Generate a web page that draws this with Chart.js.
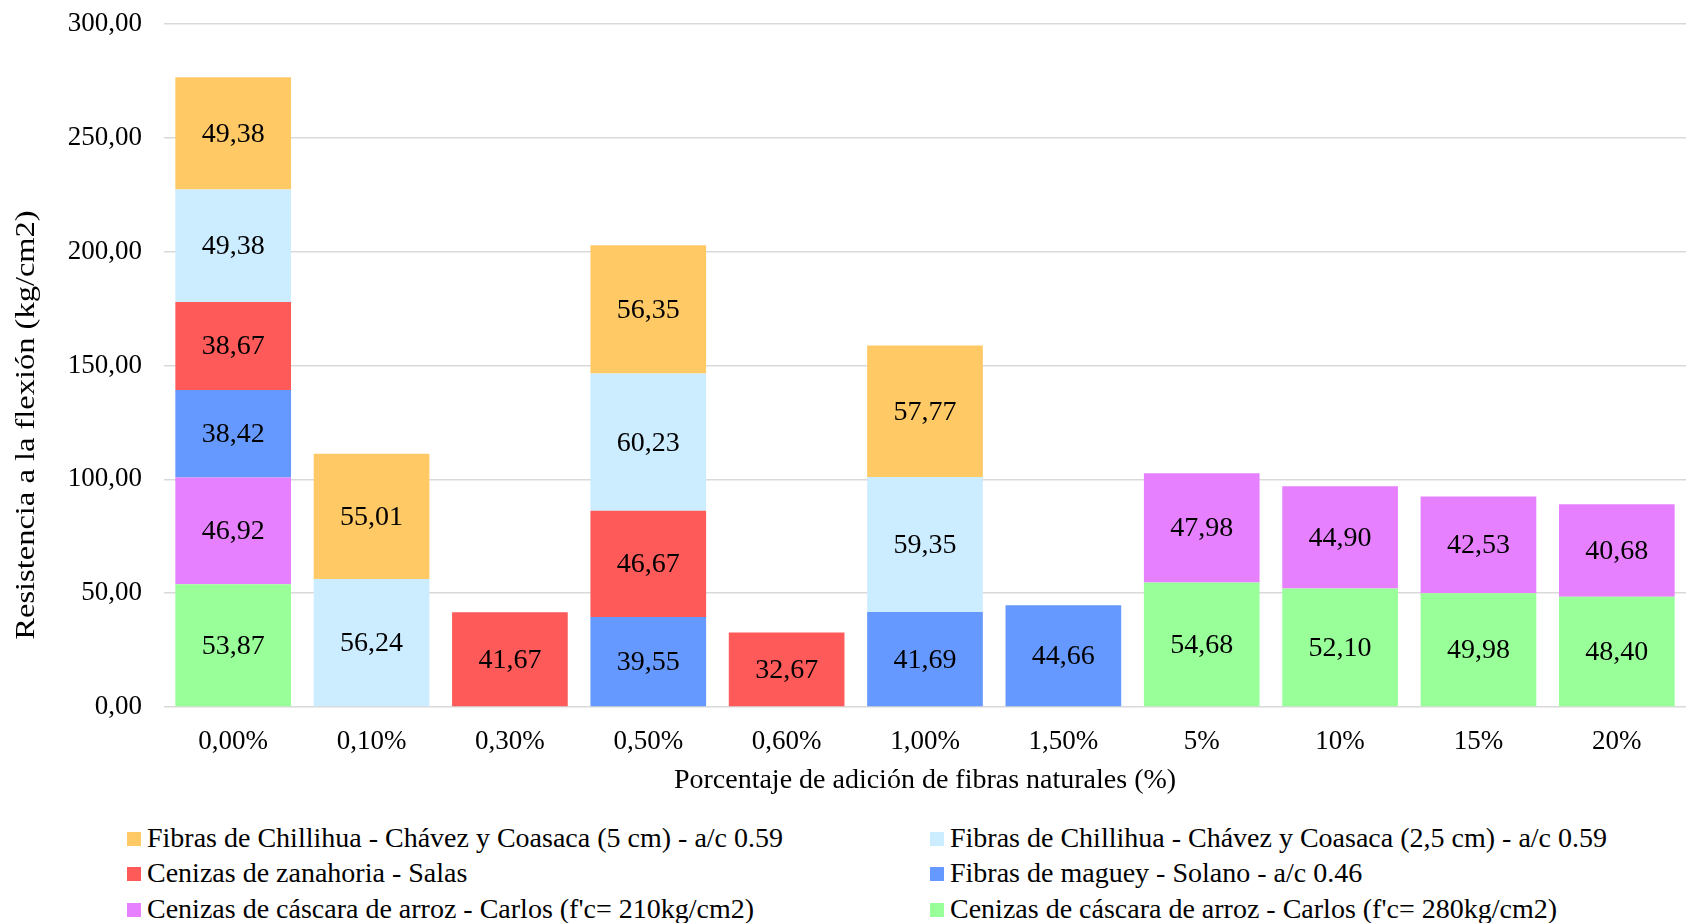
<!DOCTYPE html>
<html>
<head>
<meta charset="utf-8">
<script src="https://cdn.jsdelivr.net/npm/chart.js@4"></script>
<style>
  html, body { margin: 0; padding: 0; background: #fff; }
  #wrap { position: relative; width: 1686px; height: 923px; }
  #c { position: absolute; left: 0; top: 0; }
  .lg { position: absolute; font-family: "Liberation Serif", "Times New Roman", serif; font-size: 28px; color: #000; white-space: nowrap; line-height: 32px; }
  .lg span.sw { display: inline-block; width: 14px; height: 14px; margin-right: 6px; vertical-align: 1px; }
</style>
</head>
<body>
<div id="wrap">
  <canvas id="c" width="1686" height="800"></canvas>
  <div id="legend"></div>
</div>
<script>
const categories = ["0,00%", "0,10%", "0,30%", "0,50%", "0,60%", "1,00%", "1,50%", "5%", "10%", "15%", "20%"];
const yTicks = [0, 50, 100, 150, 200, 250, 300];

const cenizasArroz280 = [53.87, null, null, null, null, null, null, 54.68, 52.10, 49.98, 48.40];
const cenizasArroz210 = [46.92, null, null, null, null, null, null, 47.98, 44.90, 42.53, 40.68];
const fibrasMaguey     = [38.42, null, null, 39.55, null, 41.69, 44.66, null, null, null, null];
const cenizasZanahoria = [38.67, null, 41.67, 46.67, 32.67, null, null, null, null, null, null];
const chillihua25      = [49.38, 56.24, null, 60.23, null, 59.35, null, null, null, null, null];
const chillihua5       = [49.38, 55.01, null, 56.35, null, 57.77, null, null, null, null, null];

const seriesNames = {
  c280: "Cenizas de cáscara de arroz - Carlos (f'c= 280kg/cm2)",
  c210: "Cenizas de cáscara de arroz - Carlos (f'c= 210kg/cm2)",
  mag: "Fibras de maguey - Solano - a/c 0.46",
  zan: "Cenizas de zanahoria - Salas",
  ch25: "Fibras de Chillihua - Chávez y Coasaca (2,5 cm) - a/c 0.59",
  ch5: "Fibras de Chillihua - Chávez y Coasaca (5 cm) - a/c 0.59"
};
const colors = {
  c280: "#99FF99", c210: "#E680FF", mag: "#6699FF", zan: "#FF5A5A", ch25: "#CCECFF", ch5: "#FFC966"
};

const FONT = '"Liberation Serif", "Times New Roman", serif';
const fmt = v => v.toFixed(2).replace('.', ',');

const datasets = [
  { key: 'c280', data: cenizasArroz280 },
  { key: 'c210', data: cenizasArroz210 },
  { key: 'mag', data: fibrasMaguey },
  { key: 'zan', data: cenizasZanahoria },
  { key: 'ch25', data: chillihua25 },
  { key: 'ch5', data: chillihua5 }
].map(d => ({
  label: seriesNames[d.key],
  data: d.data,
  backgroundColor: colors[d.key],
  borderWidth: 0,
  categoryPercentage: 1.0,
  barPercentage: 0.836
}));

const valueLabels = {
  id: 'valueLabels',
  afterDatasetsDraw(chart) {
    const ctx = chart.ctx;
    ctx.save();
    ctx.font = '28px ' + FONT;
    ctx.fillStyle = '#000';
    ctx.textAlign = 'center';
    ctx.textBaseline = 'middle';
    chart.data.datasets.forEach((ds, i) => {
      const meta = chart.getDatasetMeta(i);
      meta.data.forEach((bar, j) => {
        const v = ds.data[j];
        if (v === null || v === undefined) return;
        ctx.fillText(fmt(v), bar.x, (bar.y + bar.base) / 2 + 1);
      });
    });
    ctx.restore();
  }
};

const yTitle = {
  id: 'yTitle',
  afterDraw(chart) {
    const ctx = chart.ctx;
    ctx.save();
    ctx.font = '28px ' + FONT;
    ctx.fillStyle = '#000';
    ctx.textAlign = 'center';
    ctx.textBaseline = 'middle';
    ctx.translate(27, 425);
    ctx.rotate(-Math.PI / 2);
    ctx.scale(1.16, 1);
    ctx.fillText("Resistencia a la flexión (kg/cm2)", 0, 0);
    ctx.restore();
  }
};

new Chart(document.getElementById('c'), {
  type: 'bar',
  data: { labels: categories, datasets },
  options: {
    responsive: false,
    animation: false,
    layout: { padding: { top: 24, right: 0, left: 0, bottom: 0 } },
    plugins: { legend: { display: false }, tooltip: { enabled: false } },
    scales: {
      x: {
        stacked: true,
        grid: { display: false, drawTicks: false },
        border: { display: false },
        ticks: { color: '#000', font: { family: FONT, size: 27 }, padding: 19, maxRotation: 0 },
        title: { display: true, text: 'Porcentaje de adición de fibras naturales (%)', color: '#000', font: { family: FONT, size: 28 }, padding: { top: 0, bottom: 3 } },
        afterFit(scale) { scale.height = 93; scale.paddingLeft = 0; scale.paddingRight = 0; }
      },
      y: {
        stacked: true,
        min: 0, max: 300,
        afterBuildTicks(scale) { scale.ticks = yTicks.map(v => ({ value: v })); },
        grid: { color: '#D9D9D9', lineWidth: 1.5, drawTicks: false },
        border: { display: false },
        ticks: { color: '#000', font: { family: FONT, size: 27 }, padding: 22, callback: v => fmt(v) },
        afterFit(scale) { scale.width = 164; scale.paddingTop = 0; scale.paddingBottom = 0; }
      }
    }
  },
  plugins: [valueLabels, yTitle]
});

// legend (two columns, order as in the reference)
const legendOrder = [['ch5', 'ch25'], ['zan', 'mag'], ['c210', 'c280']];
const colX = [127, 930];
const rowY = [838, 873, 909];
const lg = document.getElementById('legend');
legendOrder.forEach((row, r) => row.forEach((key, c) => {
  const d = document.createElement('div');
  d.className = 'lg';
  d.style.left = colX[c] + 'px';
  d.style.top = (rowY[r] - 16) + 'px';
  d.innerHTML = '<span class="sw" style="background:' + colors[key] + '"></span>';
  d.appendChild(document.createTextNode(seriesNames[key]));
  lg.appendChild(d);
}));
</script>
</body>
</html>
